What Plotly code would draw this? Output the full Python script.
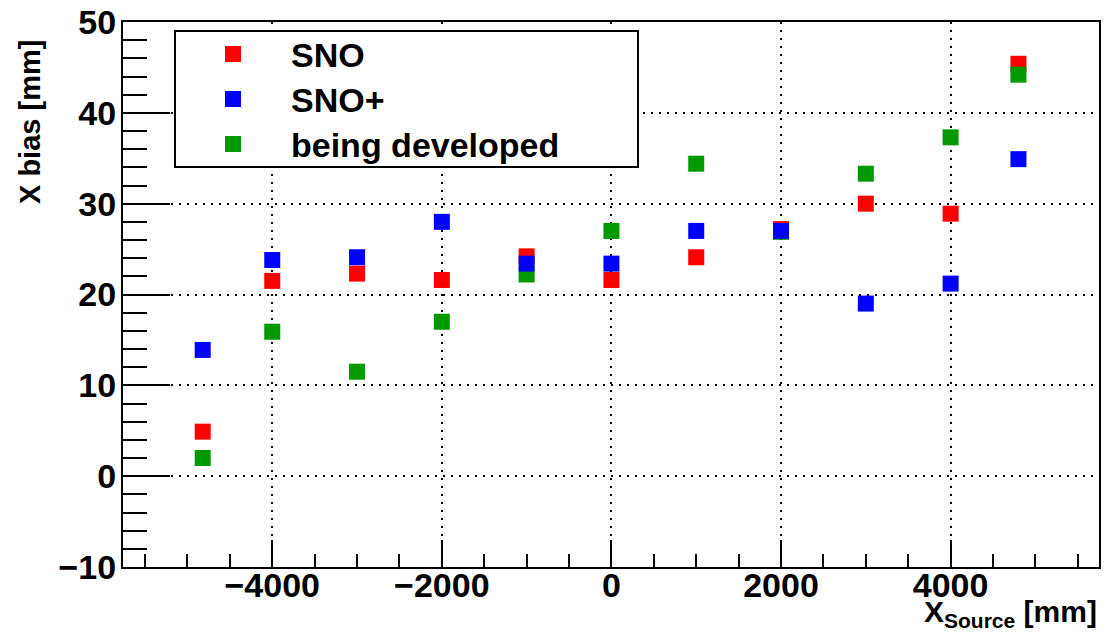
import plotly.graph_objects as go

# Source positions along X [mm]
x_source = [-4820, -4000, -3000, -2000, -1000, 0, 1000, 2000, 3000, 4000, 4800]

# X bias [mm] for each fitter
bias_sno = [4.9, 21.5, 22.3, 21.6, 24.2, 21.6, 24.1, 27.2, 30.0, 28.9, 45.4]
bias_snoplus = [13.9, 23.8, 24.1, 28.0, 23.4, 23.4, 27.0, 27.0, 19.0, 21.2, 34.9]
bias_dev = [2.0, 15.9, 11.5, 17.0, 22.2, 27.0, 34.4, 26.9, 33.3, 37.3, 44.2]

series_names = ["SNO", "SNO+", "being developed"]
series_colors = ["#ff0000", "#0000ff", "#009a00"]

x_ticks = [-4000, -2000, 0, 2000, 4000]
y_ticks = [-10, 0, 10, 20, 30, 40, 50]

FONT = "Liberation Sans, Arial, Helvetica, sans-serif"
W, H = 1104, 640
ML, MR, MT, MB = 123, 5, 22, 73
PW, PH = W - ML - MR, H - MT - MB


def px_to_paper_x(px):
    return (px - ML) / PW


def px_to_paper_y(py):
    return (H - MB - py) / PH


fig = go.Figure()

# drawing order: SNO, being developed, SNO+ (SNO+ on top)
for name, ys, col in [
    (series_names[0], bias_sno, series_colors[0]),
    (series_names[2], bias_dev, series_colors[2]),
    (series_names[1], bias_snoplus, series_colors[1]),
]:
    fig.add_trace(go.Scatter(
        x=x_source, y=ys, mode="markers", name=name,
        marker=dict(symbol="square", size=16, color=col, line=dict(width=0)),
        showlegend=False,
    ))

axis_common = dict(
    showline=True, linecolor="black", linewidth=2, mirror=True,
    ticks="inside", tickcolor="black", tickwidth=2,
    showgrid=True, gridcolor="black", gridwidth=2, griddash="2px,6px",
    zeroline=False,
    tickfont=dict(family=FONT, size=34, color="black", weight="bold"),
)

fig.update_xaxes(
    range=[-5760, 5750], tickvals=x_ticks, ticklen=27,
    minor=dict(dtick=500, tick0=0, ticks="inside", ticklen=13,
               tickwidth=2, tickcolor="black", showgrid=False),
    ticklabelstandoff=-13,
    **axis_common,
)
fig.update_yaxes(
    range=[-10, 50], tickvals=y_ticks, ticklen=47,
    minor=dict(dtick=2, tick0=0, ticks="inside", ticklen=24,
               tickwidth=2, tickcolor="black", showgrid=False),
    ticklabelstandoff=-2,
    **axis_common,
)

annotations = []
shapes = []

# axis titles
annotations.append(dict(
    text="X<sub>Source</sub> [mm]", xref="paper", yref="paper",
    x=1.0, y=px_to_paper_y(593), xanchor="right", yanchor="top",
    showarrow=False, font=dict(family=FONT, size=30, color="black", weight="bold"),
))
annotations.append(dict(
    text="X bias [mm]", xref="paper", yref="paper", textangle=-90,
    x=px_to_paper_x(30), y=px_to_paper_y(38), xanchor="center", yanchor="top",
    showarrow=False, font=dict(family=FONT, size=29, color="black", weight="bold"),
))

# legend box
shapes.append(dict(
    type="rect", xref="paper", yref="paper",
    x0=px_to_paper_x(175), x1=px_to_paper_x(638),
    y0=px_to_paper_y(167), y1=px_to_paper_y(31),
    line=dict(color="black", width=2), fillcolor="white", layer="above",
))
row_y = [54, 99, 144]
for name, col, ry in zip(series_names, series_colors, row_y):
    shapes.append(dict(
        type="rect", xref="paper", yref="paper",
        xsizemode="pixel", ysizemode="pixel",
        xanchor=px_to_paper_x(233), yanchor=px_to_paper_y(ry),
        x0=-8, x1=8, y0=-8, y1=8,
        line=dict(width=0), fillcolor=col, layer="above",
    ))
    annotations.append(dict(
        text=name, xref="paper", yref="paper",
        x=px_to_paper_x(289), y=px_to_paper_y(ry + 1),
        xanchor="left", yanchor="middle", showarrow=False,
        font=dict(family=FONT, size=34, color="black", weight="bold"),
    ))

fig.update_layout(
    width=W, height=H,
    margin=dict(l=ML, r=MR, t=MT, b=MB, autoexpand=False),
    paper_bgcolor="white", plot_bgcolor="white",
    showlegend=False,
    annotations=annotations, shapes=shapes,
)

fig.write_html("out.html")
